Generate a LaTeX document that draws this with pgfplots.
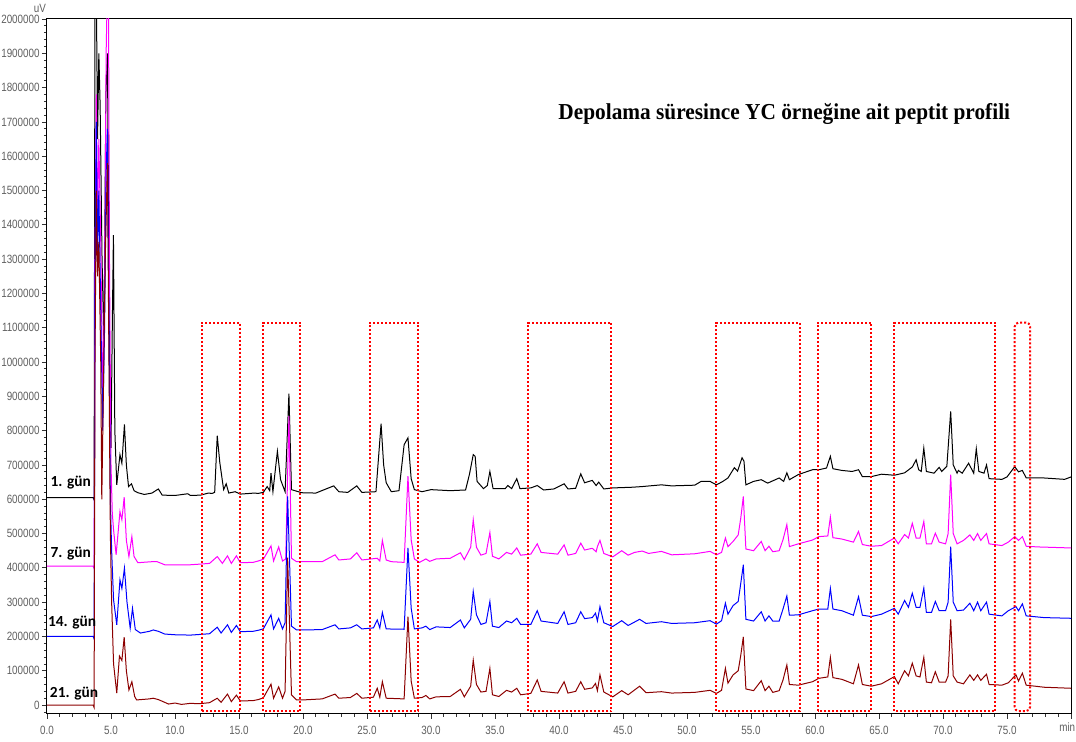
\documentclass[border=0pt]{standalone}
\usepackage{pgfplots}
\pgfplotsset{compat=1.18}
\usepackage{fontspec}
\setmainfont{Liberation Sans}
\newfontfamily\tickfont[FakeStretch=0.82]{Liberation Sans}
\newfontfamily\titlefont[FakeStretch=0.935]{Liberation Serif}
\newfontfamily\labfont{Carlito}
\definecolor{cmag}{RGB}{255,0,255}
\definecolor{cblue}{RGB}{0,0,255}
\definecolor{cred}{RGB}{140,0,0}
\definecolor{cbox}{RGB}{255,0,0}
\definecolor{ctick}{RGB}{95,95,95}
\begin{document}
\begin{tikzpicture}
\useasboundingbox (-23.5pt,-14pt) rectangle (514.5pt,357pt);
\begin{axis}[
  name=ax, at={(0,0)}, anchor=south west,
  scale only axis, width=512pt, height=347.5pt,
  xmin=0, xmax=80, ymin=-26000, ymax=2000000,
  axis line style={line width=0.5pt},
  tick align=outside, tick pos=left,
  xtick={0,5,10,15,20,25,30,35,40,45,50,55,60,65,70,75,80},
  xticklabels={0.0,5.0,10.0,15.0,20.0,25.0,30.0,35.0,40.0,45.0,50.0,55.0,60.0,65.0,70.0,75.0,{}},
  minor x tick num=4,
  ytick distance=100000, minor y tick num=4,
  major tick length=2.5pt, minor tick length=1.5pt,
  tick style={black!80, line width=0.4pt},
  scaled y ticks=false,
  /pgf/number format/assume math mode=true,
  yticklabel style={/pgf/number format/fixed, /pgf/number format/1000 sep={}, font=\tickfont\fontsize{6}{7}\selectfont, text=ctick, inner sep=1pt},
  xticklabel style={font=\tickfont\fontsize{6}{7}\selectfont, text=ctick},
  every axis plot/.append style={line width=0.5pt, no marks},
]
% 1. gun (black)
\addplot[black] coordinates {
(0,605000)(3.6,605000)(3.68,598000)(3.75,2100000)(3.85,2100000)(3.95,1650000)(4.05,1900000)(4.15,1750000)(4.3,1300000)(4.45,1050000)(4.6,1780000)(4.72,1900000)(4.8,1500000)(4.9,900000)(5.0,750000)(5.1,1100000)(5.19,1370000)(5.3,800000)(5.45,642000)(5.7,730000)(5.85,705000)(6.05,818000)(6.2,700000)(6.37,637000)(6.6,645000)(6.8,625000)(7.1,619000)(7.6,614000)(8.2,618000)(8.7,630000)(9.0,612000)(10.0,611000)(11.0,616000)(11.2,611000)(12.0,612000)(12.6,618000)(12.9,617000)(13.1,620000)(13.3,785000)(13.5,707000)(13.8,628000)(14.0,645000)(14.2,618000)(14.7,622000)(15.1,615000)(16.2,618000)(16.5,617000)(16.9,620000)(17.2,637000)(17.4,625000)(17.5,676000)(17.65,622000)(18.0,740000)(18.25,657000)(18.6,622000)(18.9,908000)(19.1,628000)(19.9,619000)(21.0,618000)(22.4,639000)(22.8,622000)(23.5,620000)(24.2,639000)(24.6,620000)(25.7,622000)(26.1,820000)(26.3,700000)(26.5,648000)(26.9,622000)(27.5,625000)(27.9,759000)(28.2,779000)(28.45,660000)(28.7,628000)(29.3,622000)(30.0,628000)(31.5,625000)(32.7,627000)(33.0,672000)(33.3,730000)(33.45,725000)(33.6,652000)(34.1,631000)(34.4,640000)(34.6,681000)(34.85,631000)(35.8,631000)(36.0,640000)(36.3,631000)(36.7,660000)(36.95,631000)(37.8,633000)(38.3,640000)(38.8,627000)(39.6,630000)(40.4,645000)(40.7,630000)(41.3,632000)(41.7,674000)(42.0,648000)(42.6,655000)(42.9,640000)(43.1,650000)(43.5,630000)(44.2,633000)(45.7,635000)(46.5,637000)(48.0,642000)(48.8,639000)(50.6,641000)(51.1,652000)(51.8,652000)(52.3,642000)(52.8,652000)(53.2,662000)(53.7,692000)(53.95,682000)(54.3,721000)(54.45,711000)(54.6,642000)(55.2,652000)(55.8,657000)(56.3,647000)(57.2,662000)(57.55,652000)(57.8,677000)(58.0,657000)(58.7,672000)(59.8,686000)(60.3,686000)(60.9,691000)(61.2,725000)(61.4,689000)(62.1,684000)(62.9,681000)(63.4,686000)(63.7,666000)(64.4,666000)(65.2,673000)(66.2,670000)(67.0,677000)(67.6,694000)(67.9,715000)(68.1,686000)(68.3,681000)(68.5,749000)(68.7,681000)(69.3,676000)(69.7,693000)(69.9,681000)(70.3,696000)(70.6,856000)(70.8,700000)(71.1,676000)(71.2,684000)(71.5,676000)(72.0,705000)(72.4,676000)(72.6,747000)(72.8,681000)(73.2,676000)(73.4,700000)(73.6,660000)(74.6,658000)(75.0,665000)(75.6,695000)(75.9,680000)(76.2,684000)(76.5,662000)(77.9,662000)(79.5,658000)(80,665000)
};
% 7. gun (magenta)
\addplot[cmag] coordinates {
(0,405000)(3.6,405000)(3.68,398000)(3.75,1300000)(3.85,1780000)(3.95,1400000)(4.05,1650000)(4.2,1350000)(4.35,900000)(4.5,1200000)(4.62,1900000)(4.72,2100000)(4.8,2100000)(4.88,1300000)(5.0,700000)(5.1,560000)(5.2,511000)(5.4,438000)(5.7,564000)(5.85,540000)(6.03,606000)(6.2,480000)(6.4,433000)(6.63,491000)(6.8,433000)(7.1,415000)(8.2,418000)(8.6,418000)(9.2,409000)(10.0,409000)(11.2,409000)(12.0,411000)(12.7,413000)(13.3,433000)(13.7,413000)(14.1,435000)(14.4,413000)(14.8,435000)(15.1,415000)(16.1,416000)(16.5,420000)(16.9,425000)(17.5,464000)(17.7,420000)(18.1,461000)(18.4,420000)(18.65,426000)(18.9,842000)(19.1,428000)(19.5,418000)(20.0,418000)(21.5,418000)(22.5,438000)(22.8,423000)(23.7,426000)(24.2,444000)(24.6,423000)(25.8,428000)(26.0,420000)(26.2,480000)(26.5,423000)(26.9,418000)(27.9,416000)(28.2,667000)(28.45,482000)(28.7,426000)(29.1,416000)(29.6,426000)(29.9,419000)(30.4,426000)(31.5,428000)(32.3,444000)(32.6,424000)(33.1,460000)(33.3,540000)(33.55,460000)(33.9,437000)(34.3,442000)(34.6,503000)(34.8,434000)(35.3,426000)(35.9,445000)(36.3,440000)(36.7,458000)(37.0,437000)(37.8,440000)(38.3,470000)(38.6,445000)(39.9,440000)(40.4,467000)(40.7,437000)(41.3,442000)(41.7,472000)(42.0,452000)(42.6,457000)(42.9,447000)(43.0,462000)(43.2,480000)(43.5,442000)(44.2,432000)(44.9,450000)(45.4,437000)(45.9,445000)(46.5,449000)(47.0,442000)(48.0,448000)(48.8,438000)(50.6,441000)(51.8,448000)(52.3,438000)(52.7,445000)(53.0,487000)(53.2,462000)(53.6,477000)(54.0,496000)(54.2,545000)(54.4,608000)(54.6,455000)(55.2,450000)(55.8,477000)(56.1,450000)(56.4,463000)(56.7,447000)(57.2,450000)(57.5,482000)(57.8,526000)(58.0,462000)(58.7,470000)(59.8,481000)(60.3,491000)(61.0,493000)(61.2,548000)(61.4,488000)(62.1,484000)(63.0,475000)(63.4,506000)(63.7,468000)(64.4,463000)(65.2,465000)(66.2,487000)(66.5,470000)(67.0,497000)(67.3,487000)(67.6,530000)(67.9,487000)(68.2,487000)(68.5,535000)(68.7,470000)(69.1,470000)(69.4,501000)(69.7,475000)(70.2,470000)(70.4,500000)(70.6,672000)(70.8,500000)(71.1,470000)(71.6,480000)(72.1,496000)(72.4,480000)(72.7,500000)(72.95,480000)(73.4,500000)(73.6,470000)(74.6,465000)(75.1,475000)(75.6,491000)(75.9,480000)(76.2,491000)(76.5,463000)(77.4,461000)(80,458000)
};
% 14. gun (blue)
\addplot[cblue] coordinates {
(0,200000)(3.6,200000)(3.68,193000)(3.75,1200000)(3.85,1700000)(3.95,1300000)(4.05,1500000)(4.2,1150000)(4.35,800000)(4.5,1100000)(4.62,1550000)(4.72,1680000)(4.82,1200000)(4.95,600000)(5.05,450000)(5.2,307000)(5.45,234000)(5.7,365000)(5.85,340000)(6.05,399000)(6.25,300000)(6.5,224000)(6.68,282000)(6.9,220000)(7.3,210000)(8.0,215000)(8.3,219000)(8.7,215000)(9.2,207000)(10.0,205000)(11.2,204000)(12.0,206000)(12.7,208000)(13.3,227000)(13.6,210000)(14.1,234000)(14.4,212000)(14.8,232000)(15.1,214000)(16.1,215000)(16.5,218000)(16.9,222000)(17.5,263000)(17.7,222000)(18.1,253000)(18.4,222000)(18.6,240000)(18.8,608000)(19.1,230000)(19.5,219000)(20.0,219000)(21.5,220000)(22.5,234000)(22.8,222000)(23.7,225000)(24.2,234000)(24.6,222000)(25.5,225000)(25.8,248000)(26.0,225000)(26.2,270000)(26.5,222000)(27.9,221000)(28.2,458000)(28.45,283000)(28.7,222000)(29.3,225000)(29.6,230000)(29.9,220000)(30.4,228000)(31.5,226000)(32.3,248000)(32.6,225000)(33.1,250000)(33.3,331000)(33.55,263000)(33.9,235000)(34.3,240000)(34.6,302000)(34.8,230000)(35.3,226000)(35.9,245000)(36.3,240000)(36.7,253000)(37.0,235000)(37.8,235000)(38.3,275000)(38.6,245000)(39.9,238000)(40.4,272000)(40.7,235000)(41.3,240000)(41.7,272000)(42.0,252000)(42.6,255000)(42.85,268000)(43.0,245000)(43.2,287000)(43.5,240000)(44.2,229000)(44.9,246000)(45.4,232000)(46.3,250000)(46.8,238000)(48.0,243000)(48.8,238000)(50.6,240000)(51.8,246000)(52.3,236000)(52.7,246000)(53.0,297000)(53.2,265000)(53.6,290000)(54.0,302000)(54.2,355000)(54.4,409000)(54.6,250000)(55.2,245000)(55.8,272000)(56.1,245000)(56.4,260000)(56.7,245000)(57.2,245000)(57.5,280000)(57.8,318000)(58.0,262000)(58.7,263000)(59.8,275000)(60.3,280000)(61.0,280000)(61.2,340000)(61.4,280000)(62.1,275000)(63.0,262000)(63.4,316000)(63.7,262000)(64.4,258000)(65.2,265000)(66.2,282000)(66.5,265000)(67.0,305000)(67.3,285000)(67.6,326000)(67.9,285000)(68.2,285000)(68.5,341000)(68.7,270000)(69.1,270000)(69.4,302000)(69.7,275000)(70.2,275000)(70.4,300000)(70.6,462000)(70.8,300000)(71.1,275000)(71.6,277000)(72.1,297000)(72.4,275000)(72.7,300000)(72.95,275000)(73.4,300000)(73.6,265000)(74.6,260000)(75.1,275000)(75.7,287000)(75.9,275000)(76.2,295000)(76.5,260000)(77.9,255000)(80,253000)
};
% 21. gun (dark red)
\addplot[cred] coordinates {
(0,0)(3.6,0)(3.68,-7000)(3.75,1000000)(3.85,1500000)(3.95,1250000)(4.05,1350000)(4.2,1000000)(4.28,600000)(4.4,900000)(4.55,1300000)(4.72,1580000)(4.82,1100000)(4.95,500000)(5.05,300000)(5.2,120000)(5.45,35000)(5.66,143000)(5.85,130000)(6.03,198000)(6.2,100000)(6.4,44000)(6.63,68000)(6.85,25000)(7.0,15000)(8.0,18000)(8.3,20000)(8.7,16000)(9.5,3000)(10.0,6000)(10.5,2000)(11.2,5000)(11.9,4000)(12.7,7000)(13.3,20000)(13.6,8000)(14.1,32000)(14.4,10000)(14.8,29000)(15.1,12000)(16.1,13000)(16.5,16000)(16.9,21000)(17.5,61000)(17.7,20000)(18.1,53000)(18.4,20000)(18.6,40000)(18.8,430000)(19.1,30000)(19.5,15000)(20.0,15000)(21.5,18000)(22.5,32000)(22.8,20000)(23.7,22000)(24.2,34000)(24.6,20000)(25.5,23000)(25.8,49000)(26.0,23000)(26.2,68000)(26.5,20000)(27.9,18000)(28.2,258000)(28.45,70000)(28.7,20000)(29.3,22000)(29.6,28000)(29.9,18000)(30.4,24000)(31.5,25000)(32.3,46000)(32.6,24000)(33.1,55000)(33.3,131000)(33.55,60000)(33.9,38000)(34.3,40000)(34.6,107000)(34.8,30000)(35.3,25000)(35.9,43000)(36.3,38000)(36.7,49000)(37.0,30000)(37.8,34000)(38.3,73000)(38.6,40000)(39.9,35000)(40.4,68000)(40.7,35000)(41.3,40000)(41.7,68000)(42.0,46000)(42.6,50000)(42.85,63000)(43.0,42000)(43.2,88000)(43.5,38000)(44.2,24000)(44.9,42000)(45.4,30000)(46.3,55000)(46.8,36000)(48.0,39000)(48.8,35000)(50.6,37000)(51.8,43000)(52.3,34000)(52.7,43000)(53.0,107000)(53.2,64000)(53.6,88000)(54.0,100000)(54.2,145000)(54.4,199000)(54.6,47000)(55.2,42000)(55.8,71000)(56.1,42000)(56.4,55000)(56.7,37000)(57.2,42000)(57.5,73000)(57.8,117000)(58.0,60000)(58.7,58000)(59.8,68000)(60.3,78000)(61.0,82000)(61.2,139000)(61.4,80000)(62.1,75000)(63.0,62000)(63.4,117000)(63.7,60000)(64.4,55000)(65.2,62000)(66.2,83000)(66.5,62000)(67.0,100000)(67.3,85000)(67.6,122000)(67.9,85000)(68.2,82000)(68.5,139000)(68.7,67000)(69.1,65000)(69.4,97000)(69.7,67000)(70.2,67000)(70.4,85000)(70.6,250000)(70.8,85000)(71.1,67000)(71.6,62000)(72.1,88000)(72.4,72000)(72.7,88000)(72.95,72000)(73.4,90000)(73.6,60000)(74.6,58000)(75.1,65000)(75.7,88000)(75.9,70000)(76.2,93000)(76.5,58000)(77.9,52000)(80,49000)
};
% highlighted regions
\tikzset{hbox/.style={draw=cbox, line width=1pt, dash pattern=on 1pt off 1pt}}
\draw[hbox] (axis cs:12.1,-17500) rectangle (axis cs:15.1,1115000);
\draw[hbox] (axis cs:16.9,-17500) rectangle (axis cs:19.8,1115000);
\draw[hbox] (axis cs:25.2,-17500) rectangle (axis cs:29.0,1115000);
\draw[hbox] (axis cs:37.6,-17500) rectangle (axis cs:44.1,1115000);
\draw[hbox] (axis cs:52.3,-17500) rectangle (axis cs:58.8,1115000);
\draw[hbox] (axis cs:60.2,-17500) rectangle (axis cs:64.4,1115000);
\draw[hbox] (axis cs:66.2,-17500) rectangle (axis cs:74.1,1115000);
\draw[hbox, rounded corners=2pt] (axis cs:75.6,-17500) rectangle (axis cs:76.8,1115000);
% labels
\node[anchor=base west, inner sep=0, font=\labfont\bfseries\fontsize{7.7}{8}\selectfont] at (axis cs:0.25,636000) {1. gün};
\node[anchor=base west, inner sep=0, font=\labfont\bfseries\fontsize{7.7}{8}\selectfont] at (axis cs:0.25,430000) {7. gün};
\node[anchor=base west, inner sep=0, font=\labfont\bfseries\fontsize{7.7}{8}\selectfont] at (axis cs:0.05,229000) {14. gün};
\node[anchor=base west, inner sep=0, font=\labfont\bfseries\fontsize{7.7}{8}\selectfont] at (axis cs:0.2,23000) {21. gün};
\node[font=\titlefont\bfseries\fontsize{11.4}{13}\selectfont] at (axis cs:57.6,1723000) {Depolama süresince YC örneğine ait peptit profili};
\end{axis}
\node[font=\tickfont\fontsize{6}{7}\selectfont, text=ctick] at ([xshift=-3.5pt,yshift=5.5pt]ax.north west) {uV};
\node[font=\tickfont\fontsize{6}{7}\selectfont, text=ctick, anchor=north east, inner sep=0pt] at ([xshift=2.3pt,yshift=-4.2pt]ax.south east) {min};
\end{tikzpicture}
\end{document}
